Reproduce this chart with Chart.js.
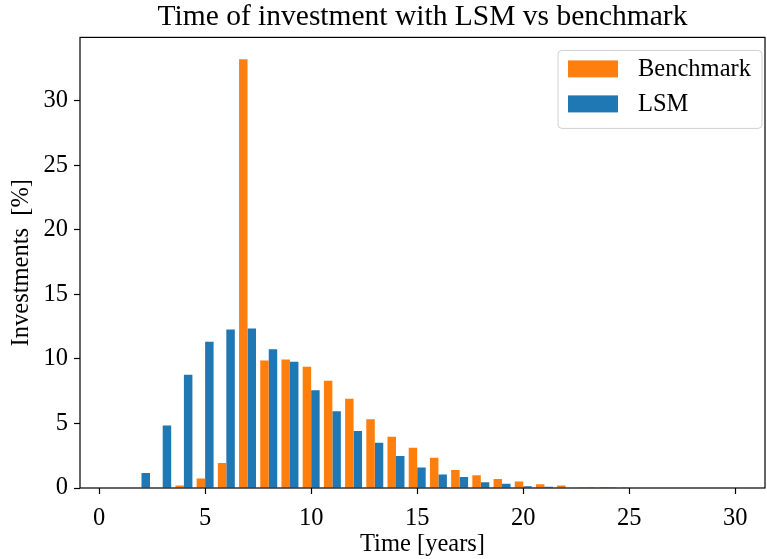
<!DOCTYPE html>
<html>
<head>
<meta charset="utf-8">
<script src="https://cdn.jsdelivr.net/npm/chart.js@4.4.0/dist/chart.umd.min.js"></script>
<style>
  html, body { margin: 0; padding: 0; background: #fff; }
  #wrap { width: 767px; height: 559px; }
</style>
</head>
<body>
<div id="wrap"><canvas id="myChart" width="767" height="559"></canvas></div>
<script>
// years (bin centres)
const years = [];
for (let i = 0; i <= 30; i++) years.push(i);

// share of investments per year, in %
const benchmarkPct = [0, 0, 0, 0, 0.19, 0.73, 1.94, 33.2, 9.88, 9.96, 9.39, 8.31, 6.92, 5.33, 3.97, 3.12,
  2.35, 1.40, 0.99, 0.70, 0.50, 0.29, 0.19, 0.05, 0.08, 0.02, 0, 0, 0, 0, 0];
const lsmPct = [0, 0, 1.16, 4.84, 8.77, 11.32, 12.28, 12.35, 10.75, 9.78, 7.58, 5.95, 4.41, 3.51, 2.48, 1.58,
  1.04, 0.86, 0.45, 0.32, 0.14, 0.10, 0.04, 0.02, 0.01, 0, 0, 0, 0, 0, 0];

const xTicks = [0, 5, 10, 15, 20, 25, 30];
const yTicks = [0, 5, 10, 15, 20, 25, 30];

const serif = "'Liberation Serif', 'DejaVu Serif', serif";

// frame round the plot (all four spines)
const framePlugin = {
  id: 'frame',
  afterDatasetsDraw(chart) {
    const a = chart.chartArea, ctx = chart.ctx;
    ctx.save();
    ctx.strokeStyle = '#000';
    ctx.lineWidth = 1.2;
    ctx.strokeRect(a.left, a.top, a.right - a.left, a.bottom - a.top);
    ctx.restore();
  }
};

// matplotlib-like legend box in the upper right corner
const boxLegend = {
  id: 'boxLegend',
  afterDraw(chart) {
    const a = chart.chartArea, ctx = chart.ctx;
    const w = 204, h = 78;
    const x = a.right - w - 3, y = a.top + 13;
    ctx.save();
    ctx.fillStyle = 'rgba(255,255,255,0.8)';
    ctx.strokeStyle = '#d0d0d0';
    ctx.lineWidth = 1;
    ctx.beginPath();
    ctx.roundRect(x, y, w, h, 4);
    ctx.fill();
    ctx.stroke();
    ctx.font = '24.5px ' + serif;
    ctx.textBaseline = 'middle';
    chart.data.datasets.forEach(function (ds, i) {
      const ry = y + 18 + i * 35;
      ctx.fillStyle = ds.backgroundColor;
      ctx.fillRect(x + 10, ry - 8, 50, 17);
      ctx.fillStyle = '#000';
      ctx.fillText(ds.label, x + 80, ry + 1);
    });
    ctx.restore();
  }
};

const config = {
  type: 'bar',
  data: {
    datasets: [
      {
        label: 'Benchmark',
        data: years.map((x, i) => ({ x: x, y: benchmarkPct[i] })),
        backgroundColor: '#ff7f0e',
        categoryPercentage: 0.8,
        barPercentage: 1.0
      },
      {
        label: 'LSM',
        data: years.map((x, i) => ({ x: x, y: lsmPct[i] })),
        backgroundColor: '#1f77b4',
        categoryPercentage: 0.8,
        barPercentage: 1.0
      }
    ]
  },
  options: {
    responsive: false,
    animation: false,
    layout: { padding: { left: 0, right: 2, top: 0, bottom: 0 } },
    plugins: {
      legend: { display: false },
      tooltip: { enabled: false },
      title: {
        display: true,
        fullSize: false,
        text: 'Time of investment with LSM vs benchmark',
        color: '#000',
        font: { family: serif, size: 29.5, weight: 'normal' },
        padding: { top: 0, bottom: 2 }
      }
    },
    scales: {
      x: {
        type: 'linear',
        min: -0.9,
        max: 31.4,
        offset: false,
        afterBuildTicks: (s) => { s.ticks = xTicks.map(v => ({ value: v })); },
        afterFit: (s) => { s.height = 71; },
        grid: { offset: false, drawOnChartArea: false, drawTicks: true, tickLength: 6, tickColor: '#000', tickWidth: 1.2 },
        border: { display: false },
        ticks: { color: '#000', font: { family: serif, size: 24.5 }, padding: 10, maxRotation: 0 },
        title: { display: true, text: 'Time [years]', color: '#000', font: { family: serif, size: 24.5 }, padding: { top: 0, bottom: 0 } }
      },
      y: {
        min: 0,
        max: 34.9,
        afterBuildTicks: (s) => { s.ticks = yTicks.map(v => ({ value: v })); },
        afterFit: (s) => { s.width = 80; },
        grid: { drawOnChartArea: false, drawTicks: true, tickLength: 6, tickColor: '#000', tickWidth: 1.2 },
        border: { display: false },
        ticks: { color: '#000', font: { family: serif, size: 24.5 }, padding: 6 },
        title: { display: true, text: 'Investments  [%]', color: '#000', font: { family: serif, size: 24.5 }, padding: { top: 7, bottom: 2 } }
      }
    }
  },
  plugins: [framePlugin, boxLegend]
};

new Chart(document.getElementById('myChart'), config);
</script>
</body>
</html>
